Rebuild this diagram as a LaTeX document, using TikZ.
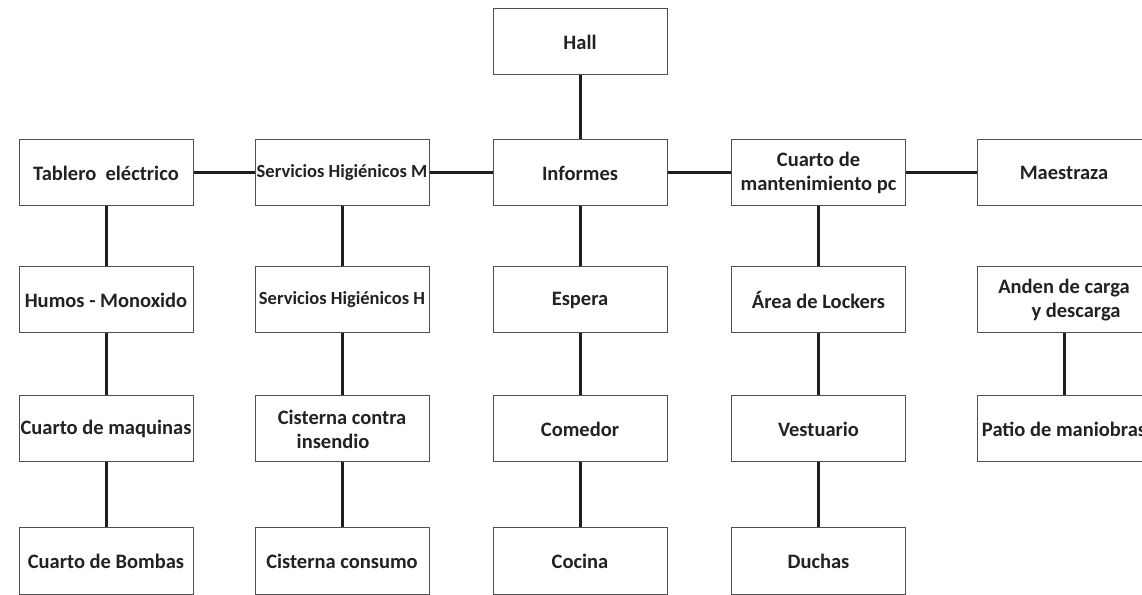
\documentclass[tikz,border=0pt]{standalone}
\usepackage{fontspec}
\setmainfont{Carlito}
\definecolor{txt}{HTML}{222222}
\definecolor{edge}{HTML}{505050}
\definecolor{conn}{HTML}{1E1E1E}
\begin{document}
\begin{tikzpicture}[x=1pt,y=1pt,
  room/.style={draw=edge, line width=1pt, fill=white, minimum width=174pt, minimum height=66pt,
    inner sep=0pt, align=center, text=txt, font=\bfseries\fontsize{20.5}{24}\selectfont},
  roomsm/.style={room, font=\bfseries\fontsize{18.5}{22}\selectfont},
  link/.style={draw=conn, line width=3pt}]
\useasboundingbox (0,0) rectangle (1142,594);
% column centres: 106, 342, 580, 818.5, 1064 ; row centres (tikz y): 552, 421, 294, 165, 33
\node[room] (hall) at (580,552) {Hall};
\node[room] (tab) at (106,421) {Tablero~ eléctrico};
\node[roomsm] (shm) at (342,421) {Servicios Higiénicos M};
\node[room] (inf) at (580,421) {Informes};
\node[room] (cmp) at (818.5,421) {Cuarto de\\mantenimiento pc};
\node[room] (mae) at (1064,421) {Maestraza};
\node[room] (hum) at (106,294) {Humos - Monoxido};
\node[roomsm] (shh) at (342,294) {Servicios Higiénicos H};
\node[room] (esp) at (580,294) {Espera};
\node[room] (loc) at (818.5,294) {Área de Lockers};
\node[room] (and) at (1064,294) {Anden de carga\\\hspace*{24pt}y descarga};
\node[room] (maq) at (106,165) {Cuarto de maquinas};
\node[room] (cci) at (342,165) {Cisterna contra\\insendio\hspace*{18pt}};
\node[room] (com) at (580,165) {Comedor};
\node[room] (ves) at (818.5,165) {Vestuario};
\node[room] (pat) at (1064,165) {Patio de maniobras};
\node[room] (bom) at (106,33) {Cuarto de Bombas};
\node[room] (ccs) at (342,33) {Cisterna consumo};
\node[room] (coc) at (580,33) {Cocina};
\node[room] (duc) at (818.5,33) {Duchas};
% connectors
\draw[link] (hall) -- (inf);
\draw[link] (tab) -- (shm);
\draw[link] (shm) -- (inf);
\draw[link] (inf) -- (cmp);
\draw[link] (cmp) -- (mae);
\draw[link] (tab) -- (hum);
\draw[link] (hum) -- (maq);
\draw[link] (maq) -- (bom);
\draw[link] (shm) -- (shh);
\draw[link] (shh) -- (cci);
\draw[link] (cci) -- (ccs);
\draw[link] (inf) -- (esp);
\draw[link] (esp) -- (com);
\draw[link] (com) -- (coc);
\draw[link] (cmp) -- (loc);
\draw[link] (loc) -- (ves);
\draw[link] (ves) -- (duc);
\draw[link] (and) -- (pat);
\end{tikzpicture}
\end{document}
